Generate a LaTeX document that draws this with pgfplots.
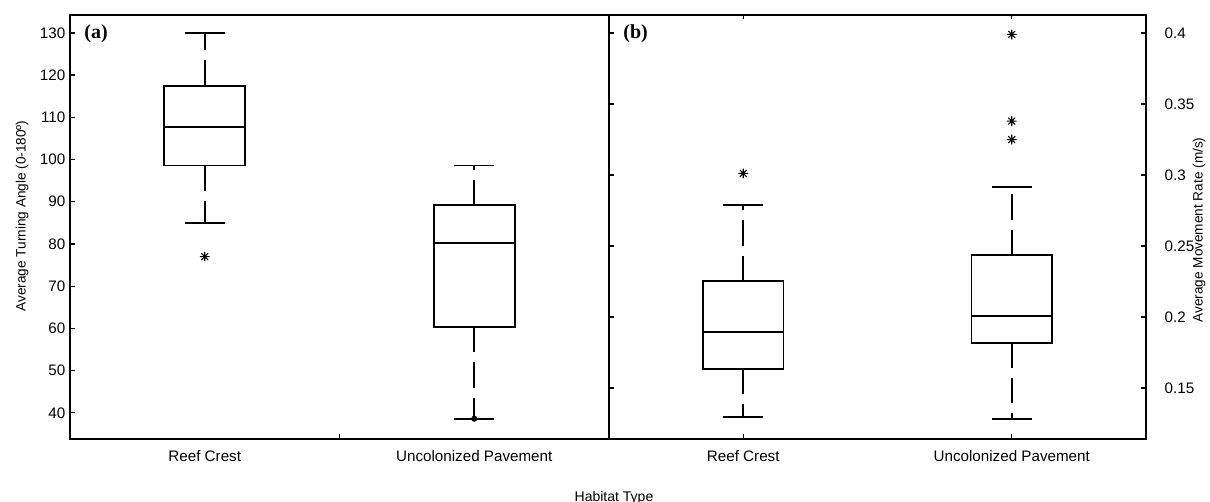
\documentclass[border=0pt]{standalone}
\usepackage{fontspec}
\setmainfont{Liberation Sans}
\newfontfamily\timesfont{Liberation Serif}
\usepackage{pgfplots}
\pgfplotsset{compat=1.18}
\usepgfplotslibrary{statistics}

\pgfdeclareplotmark{mstar}{%
  \pgfpathmoveto{\pgfqpoint{0pt}{\pgfplotmarksize}}%
  \pgfpathlineto{\pgfqpoint{0pt}{-\pgfplotmarksize}}%
  \pgfpathmoveto{\pgfqpoint{\pgfplotmarksize}{0pt}}%
  \pgfpathlineto{\pgfqpoint{-\pgfplotmarksize}{0pt}}%
  \pgfpathmoveto{\pgfqpoint{0.707\pgfplotmarksize}{0.707\pgfplotmarksize}}%
  \pgfpathlineto{\pgfqpoint{-0.707\pgfplotmarksize}{-0.707\pgfplotmarksize}}%
  \pgfpathmoveto{\pgfqpoint{-0.707\pgfplotmarksize}{0.707\pgfplotmarksize}}%
  \pgfpathlineto{\pgfqpoint{0.707\pgfplotmarksize}{-0.707\pgfplotmarksize}}%
  \pgfusepathqstroke}

\pgfplotsset{
  boxplot/draw/lower whisker/.code={%
    \draw[dash pattern=on 19pt off 7.5pt]
      (boxplot box cs:\pgfplotsboxplotvalue{lower quartile},0.5) --
      (boxplot box cs:\pgfplotsboxplotvalue{lower whisker},0.5);
    \draw[solid] (boxplot whisker cs:\pgfplotsboxplotvalue{lower whisker},0) --
      (boxplot whisker cs:\pgfplotsboxplotvalue{lower whisker},1);
  },
  boxplot/draw/upper whisker/.code={%
    \draw[dash pattern=on 19pt off 7.5pt]
      (boxplot box cs:\pgfplotsboxplotvalue{upper quartile},0.5) --
      (boxplot box cs:\pgfplotsboxplotvalue{upper whisker},0.5);
    \draw[solid] (boxplot whisker cs:\pgfplotsboxplotvalue{upper whisker},0) --
      (boxplot whisker cs:\pgfplotsboxplotvalue{upper whisker},1);
  },
  myaxis/.style={
    scale only axis, height=318.2pt,
    xmin=0.5, xmax=2.5,
    axis line style={line width=1.3pt},
    tick style={black, line width=1pt},
    major tick length=3.5pt, minor tick length=3.5pt,
    tick label style={font=\fontsize{11.4}{13}\selectfont},
    xticklabel style={yshift=-5pt},
    /pgf/number format/assume math mode=true,
    xtick={1,2}, xticklabels={Reef Crest, Uncolonized Pavement},
    boxplot/draw direction=y,
    boxplot/box extend=0.3, boxplot/whisker extend=0.15,
    every axis plot/.append style={black, line width=1.3pt, solid},
    starmark/.style={mark=mstar, mark size=3.6pt, mark options={line width=0.8pt}},
  },
}

\begin{document}
\begin{tikzpicture}
\useasboundingbox (0,0) rectangle (907.5pt,376.5pt);

% Panel (a)
\begin{axis}[myaxis,
  at={(52.5pt,47.25pt)}, anchor=south west,
  width=404.25pt,
  ymin=33.8, ymax=134.3,
  ytick={40,50,...,130},
  ytick pos=left, xtick pos=bottom,
  major x tick style={draw=none},
  minor xtick={1.5},
  clip=false,
]
\addplot[boxplot prepared={median=107.7, upper quartile=117.5, lower quartile=98.6,
  upper whisker=130, lower whisker=85, draw position=1},
  starmark] coordinates {(0,77)};
\addplot[boxplot prepared={median=80.3, upper quartile=89.2, lower quartile=60.3,
  upper whisker=98.6, lower whisker=38.5, draw position=2}] coordinates {};
\addplot[only marks, mark=*, mark size=1.6pt] coordinates {(2,38.6)};
\node[anchor=west, font=\timesfont\bfseries\fontsize{15}{17}\selectfont]
  at (axis description cs:0.018,0.955) {(a)};
\end{axis}

% Panel (b)
\begin{axis}[myaxis,
  at={(456.75pt,47.25pt)}, anchor=south west,
  width=402.75pt,
  ymin=0.1141, ymax=0.4129,
  ytick={0.15,0.2,0.25,0.3,0.35,0.4},
  yticklabel pos=right,
  yticklabels={0.15,0.2,0.25,0.3,0.35,0.4},
  yticklabel style={xshift=10.5pt},
  clip=false,
]
\addplot[boxplot prepared={median=0.1897, upper quartile=0.2254, lower quartile=0.1634,
  upper whisker=0.2789, lower whisker=0.1298, draw position=1},
  starmark] coordinates {(0,0.3012)};
\addplot[boxplot prepared={median=0.2007, upper quartile=0.2437, lower quartile=0.1819,
  upper whisker=0.2918, lower whisker=0.128, draw position=2},
  starmark] coordinates {(0,0.399) (0,0.338) (0,0.325)};
\node[anchor=west, font=\timesfont\bfseries\fontsize{15}{17}\selectfont]
  at (axis description cs:0.018,0.955) {(b)};
\end{axis}

\node[rotate=90, font=\fontsize{10.2}{12}\selectfont] at (16.5pt,214.5pt)
  {Average Turning Angle (0-180º)};
\node[rotate=90, font=\fontsize{10.2}{12}\selectfont] at (899.25pt,204pt)
  {Average Movement Rate (m/s)};
\node[anchor=base, font=\fontsize{10.5}{12}\selectfont] at (460.5pt,0.6pt) {Habitat Type};
\end{tikzpicture}
\end{document}
